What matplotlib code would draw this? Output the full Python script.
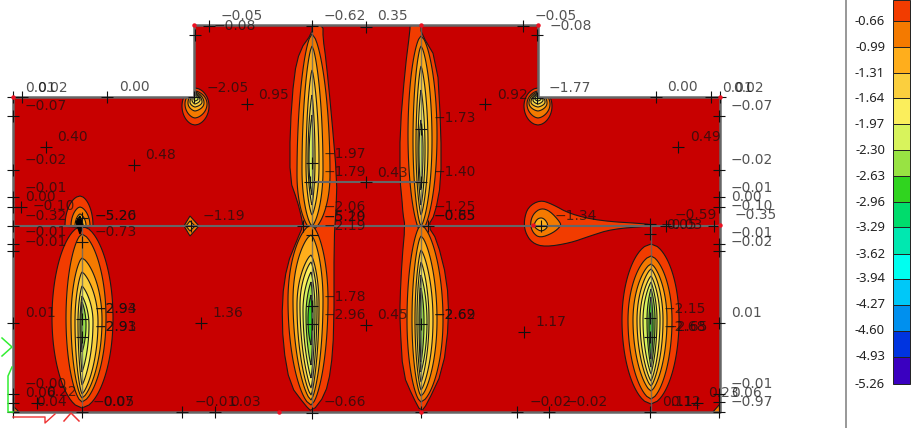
import numpy as np
import matplotlib
matplotlib.use("Agg")
import matplotlib.pyplot as plt
from matplotlib.patches import Polygon

# ---- colour scale ----
scale_values = [-0.66,-0.99,-1.31,-1.64,-1.97,-2.30,-2.63,-2.96,-3.29,-3.62,-3.94,-4.27,-4.60,-4.93,-5.26]
scale_colors = ['#f23c00','#f47a00','#ffae1c','#fbcf3e','#fbee5c','#d8f35c','#98e343','#30d41f',
                '#00dc6c','#00e8b0','#00fff0','#00c8f8','#0090ee','#0034e0','#3a00c0']
base_color = '#c80000'

# ---- wall geometry (picture coordinates) ----
wall_x = [13,194,194,538,538,720,720,13]
wall_y = [97,97,25,25,97,97,412,412]

# ---- printed values and where they sit ----
label_text = ['−0.05','−0.08','0.01','0.02','0.00','−2.05','0.95','−0.07','0.40','0.48','−0.02','−0.01','0.00','−0.10','−0.32',
              '−5.26','−5.20','−0.01','−0.01','−0.73','−1.19','−2.93','−2.94','−2.91','−2.93','0.01','1.36','−0.00','0.06','0.22','0.04',
              '−0.05','0.07','−0.01','0.03',
              '−0.62','0.35','−0.05','−0.08','−1.97','−1.79','0.43','−1.73','−1.40','−1.25','−2.06','0.92','−1.77','0.00','0.01','0.02',
              '0.49','−0.07','−0.02','−0.01','0.00','−0.10','−0.59','−0.35','−5.20','−5.19','−2.19','−0.85','−0.65','−1.34','−0.03','0.05',
              '−0.01','−0.02','−1.78','−2.96','0.45','−2.62','−2.69','1.17','−2.15','−2.68','−2.65','0.01','−0.66','−0.02','−0.02',
              '0.11','0.12','0.23','−0.01','0.06','−0.97']
label_x = [221,214,25,37,119,207,258,25,57,145,25,25,25,33,25,
           95,95,25,25,95,203,95,95,95,95,25,212,25,25,46,36,
           93,103,195,230,
           324,377,535,550,324,324,377,434,434,434,324,497,549,667,722,733,
           690,731,731,731,731,731,675,735,324,324,324,434,434,555,661,666,
           731,731,324,324,377,434,434,535,664,664,666,731,324,530,566,
           662,670,708,731,731,731]
label_y = [16,26,88,88,87,88,95,106,137,155,160,188,197,206,216,
           216,216,232,242,232,216,309,309,327,327,313,313,384,393,392,402,
           402,402,402,402,
           16,16,16,26,154,172,173,118,172,207,207,95,88,87,88,88,
           137,106,160,188,197,206,215,215,217,217,226,216,216,216,225,225,
           233,242,297,315,315,315,315,322,309,327,327,313,402,402,402,
           402,402,393,384,393,402]
mark_x = [209,195,13,22,107,194,247,13,46,134,13,13,13,21,13,82,13,13,82,82,191,13,201,13,13,37,13,82,182,215,
          312,366,523,537,312,310,366,421,421,485,537,656,711,720,678,719,719,719,719,
          303,312,428,541,312,312,366,421,524,650,650,666,714,650,650,719,719,719,719,719,650,517,549,697]
mark_y = [26,35,97,97,97,97,104,116,147,165,170,197,207,207,226,218,244,251,242,319,226,323,323,394,403,403,412,412,412,412,
          26,27,26,35,163,182,182,182,129,104,98,97,97,97,147,116,170,197,207,
          226,235,226,226,306,324,325,324,332,224,234,226,226,318,337,244,251,323,394,402,412,412,412,403]
mark_x += [82,312,421,719]
mark_y += [337,413,412,412]

# ---- contour outlines: each tuple is top, bottom, left, right, row of widest ----
pier1_low = [(226,408,52,113,318),(234,402,66,106,318),(258,398,71,102,320),(272,394,75,98,322),
             (286,385,78,93,322),(296,372,80,89,325),(302,352,81,86,325)]
pier1_cap = [(196,227,65,93,226),(207,227,71,90,226),(214,227,75,86,226),(219,227,77,83,226)]
pier2_up = [(34,230,297,330,175),(46,226,302,323,170),(70,215,306,319,165),(95,205,308,315,160),(115,195,309,313,160)]
pier2_low = [(225,405,288,328,300),(235,400,293,323,300),(255,395,297,319,305),(262,388,300,317,305),
             (272,378,303,315,310),(282,365,306,313,315),(295,345,308,312,320)]
pier3_up = [(36,232,408,437,135),(46,226,413,432,140),(66,215,416,428,145),(90,205,418,425,150),(120,190,419,423,150)]
pier3_low = [(225,402,407,443,320),(236,396,412,437,320),(250,390,415,433,320),(262,382,417,429,320),
             (275,372,419,427,322),(288,362,420,424,322)]
pier4_low = [(244,404,622,679,320),(256,399,628,672,320),(264,391,633,667,320),(269,386,637,663,320),
             (276,381,640,660,320),(282,374,643,657,320),(289,367,647,655,320),(297,359,649,653,325)]
notch1 = [(88,125,182,209,106),(91,118,185,207,104),(92,111,188,204,103),(93,107,190,202,102),(94,104,192,200,100),(95,101,194,198,99)]
notch2 = [(88,125,524,552,106),(91,118,527,550,104),(92,111,529,547,103),(93,107,531,545,102),(94,104,533,543,100),(95,101,535,541,99)]

pier2_outer_x = [312,312,300,294,290,290,297,301,303,297,287,282,283,290,305,312,
                 325,331,334,334,336,337,331,326,323,323]
pier2_outer_y = [25,33,50,75,130,180,200,215,226,240,265,300,345,385,405,412,
                 395,370,330,240,210,180,110,60,38,25]
pier3_outer_x = [410,410,405,400,400,402,403,405,402,400,400,403,413,421,
                 427,443,449,447,437,428,435,441,441,437,421,421]
pier3_outer_y = [25,30,70,130,180,200,214,226,260,300,324,374,397,412,
                 404,370,321,280,240,226,214,182,130,60,33,25]
swirl_levels_x = [[524,528,540,552,570,600,650,651,612,590,570,545,532,525],
                  [530,533,541,550,560,561,553,540,533],
                  [534,538,544,549,542,535]]
swirl_levels_y = [[220,207,200,204,214,221,224,226,229,236,243,247,243,232],
                  [224,214,208,211,222,226,233,238,233],
                  [224,218,218,226,232,228]]
diamond_x = [[190,199,190,184],[190,195,190,186]]
diamond_y = [[216,226,236,226],[221,226,231,226]]
corner_x = [[13,19,13],[712,719,719]]
corner_y = [[406,412,412],[412,412,404]]

plt.rcParams['font.family'] = 'DejaVu Sans'
fig = plt.figure(figsize=(9.24,4.28), dpi=100)
ax = fig.add_axes([0,0,1,1])
ax.set_xlim(0,924); ax.set_ylim(428,0); ax.axis('off')

wall = Polygon(np.c_[wall_x,wall_y], closed=True, fc=base_color, ec='none', zorder=1)
ax.add_patch(wall)

def smooth(x, y, n=2):
    p = np.c_[x,y].astype(float)
    for _ in range(n):
        q = np.roll(p,-1,axis=0)
        p = np.c_[0.75*p+0.25*q, 0.25*p+0.75*q].reshape(-1,2)
    return p

def blob(top, bot, left, right, mid, color, cx, power, z=2):
    s = np.linspace(-1,1,61)
    y = np.where(s<0, mid+(mid-top)*s, mid+(bot-mid)*s)
    w = np.clip(1-s**2,0,1)**power
    pts = np.r_[np.c_[cx-(cx-left)*w, y], np.c_[cx+(right-cx)*w, y][::-1]]
    ax.add_patch(Polygon(pts, closed=True, fc=color, ec='#1a1a1a', lw=0.8, zorder=z, clip_path=wall))

def poly(x, y, color, z=2, n=2):
    pts = smooth(x,y,n) if n else np.c_[x,y]
    ax.add_patch(Polygon(pts, closed=True, fc=color, ec='#1a1a1a', lw=0.8, zorder=z, clip_path=wall))

for lobe, cx in [(pier1_low,82),(pier1_cap,80),(pier4_low,651),(notch1,195),(notch2,538)]:
    for i,(t,b,l,r,m) in enumerate(lobe):
        blob(t,b,l,r,m,scale_colors[i],cx,min(.55+.07*i,.9),z=2+i*0.01)
poly(pier2_outer_x,pier2_outer_y,scale_colors[0],n=1)
poly(pier3_outer_x,pier3_outer_y,scale_colors[0],n=1)
for lobe, cx in [(pier2_up,312),(pier2_low,311),(pier3_up,421),(pier3_low,421)]:
    for i,(t,b,l,r,m) in enumerate(lobe):
        blob(t,b,l,r,m,scale_colors[i+1],cx,min(.62+.07*i,.9),z=3+i*0.01)
for i,(x,y) in enumerate(zip(swirl_levels_x,swirl_levels_y)):
    poly(x,y,scale_colors[i],z=2+i*0.01)
for i,(x,y) in enumerate(zip(diamond_x,diamond_y)):
    poly(x,y,scale_colors[i+1],z=2+i*0.01,n=0)
for x,y in zip(corner_x,corner_y):
    poly(x,y,scale_colors[1],n=0)
ax.fill([76,80,83,80],[222,216,226,234],color='black',zorder=4)

# member lines
g = dict(color='#666666', lw=1.8, zorder=5, solid_capstyle='butt')
ax.plot(wall_x+wall_x[:1], wall_y+wall_y[:1], **g)
ax.plot([13,720],[225.5,225.5], **dict(g,lw=1.5))
ax.plot([312,421],[182,182], **dict(g,lw=1.5))
for x,(a,b) in zip([82,312,421,651],[(226,412),(25,412),(25,412),(226,412)]):
    ax.plot([x,x],[a,b],color='#666666',lw=1.0,zorder=5,alpha=.8)

ax.plot(mark_x, mark_y, ls='none', marker='+', ms=8.5, mew=0.8, color='#111111', zorder=6, clip_on=False)
for t,x,y in zip(label_text,label_x,label_y):
    ax.text(x,y,t,fontsize=10,color='#111111',alpha=.72,ha='left',va='center',zorder=7,clip_on=False)

# support glyphs and red nodes
ax.plot([2,12,2],[338,347,356],color='#33ee33',lw=1.1,zorder=6)
ax.plot([12,8,8,13],[367,376,412,412],color='#33ee33',lw=1.1,zorder=6)
ax.plot([13,45,45,55],[417,417,423,414],color='#ee3333',lw=1,zorder=6)
ax.plot([64,71,79],[421,413,421],color='#ee3333',lw=1.1,zorder=6)
ax.plot([13,194,421,538,720,720,279,421,533],[97,25,25,25,97,225,412,412,225],ls='none',
        marker='o',ms=2.2,color='#ee1122',zorder=6)

# colour bar
ax.plot([846,846],[0,428],color='#909090',lw=1.3,zorder=1)
edges = [0]+[21,47,73,98,124,150,176,202,227,254,279,305,331,357,384]
for i,c in enumerate(scale_colors):
    ax.fill([893,910,910,893],[edges[i],edges[i],edges[i+1],edges[i+1]],fc=c,ec='#222222',lw=0.7,zorder=2)
for v,y in zip(scale_values,edges[1:]):
    ax.text(885,y,f'{v:.2f}',ha='right',va='center',fontsize=9.4,family='Noto Sans',color='#222222',zorder=3)

fig.savefig('out.png',dpi=100,facecolor='white')
